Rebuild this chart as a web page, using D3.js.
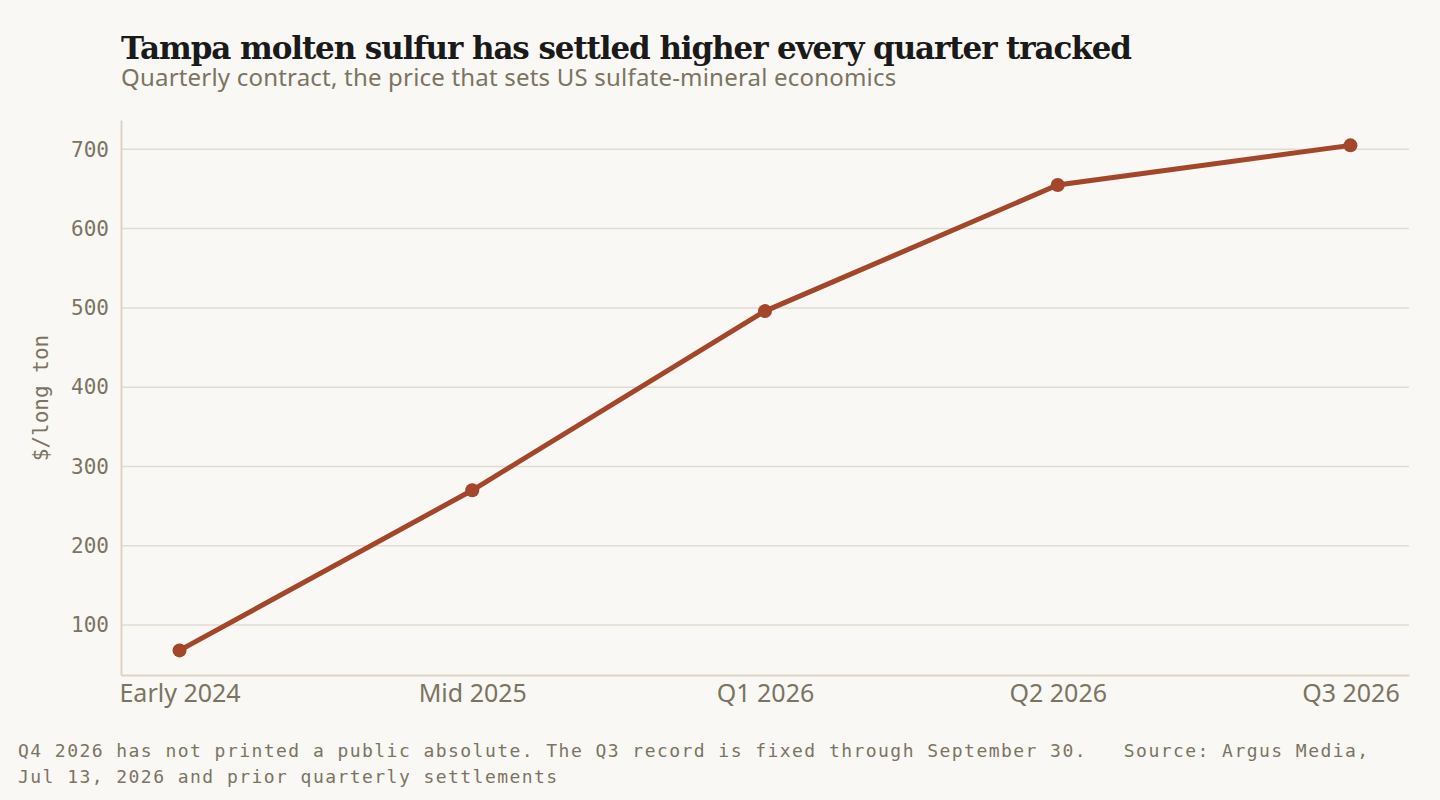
<!DOCTYPE html>
<html>
<head>
<script src="https://d3js.org/d3.v7.min.js"></script>
<style>
  html, body {margin: 0; background: #faf8f4; overflow: hidden;}
</style>
</head>
<body>
<svg id="chart" width="1440" height="800"></svg>
<script>
// data
const categories = ["Early 2024", "Mid 2025", "Q1 2026", "Q2 2026", "Q3 2026"]
const prices = [68, 270, 496, 655, 705]
const yTicks = [100, 200, 300, 400, 500, 600, 700]

const svg = d3.select("#chart")
const muted = "#7a7463"
const mono = "'DejaVu Sans Mono', monospace"
const sans = "'Noto Sans', sans-serif"

svg.append("rect").attr("width", 1440).attr("height", 800).attr("fill", "#faf8f4")

svg.append("text").attr("x", 121).attr("y", 59)
    .attr("font-family", "'DejaVu Serif', serif").attr("font-weight", "bold")
    .attr("font-size", 31).attr("letter-spacing", -1.1).attr("fill", "#1a1a1a")
    .text("Tampa molten sulfur has settled higher every quarter tracked")
svg.append("text").attr("x", 121).attr("y", 86)
    .attr("font-family", sans).attr("font-size", 24).attr("letter-spacing", 0.2).attr("fill", muted)
    .text("Quarterly contract, the price that sets US sulfate-mineral economics")

const x = d3.scalePoint().domain(categories).range([121, 1409]).padding(0.2)
const y = d3.scaleLinear().domain([37, 737]).range([675, 120])

// grid
svg.append("g").selectAll("line").data(yTicks).join("line")
    .attr("x1", 121).attr("x2", 1409)
    .attr("y1", d => y(d)).attr("y2", d => y(d))
    .attr("stroke", "#e0dcd3").attr("stroke-width", 1.5)

// axes
const yAxis = svg.append("g").attr("transform", "translate(121,0)")
    .call(d3.axisLeft(y).tickValues(yTicks).tickSize(0).tickPadding(12))
yAxis.select(".domain").attr("stroke", "#ddd3c4").attr("stroke-width", 2)
yAxis.selectAll("text").attr("font-family", mono).attr("font-size", 21).attr("fill", muted)

const xAxis = svg.append("g").attr("transform", "translate(0,675)")
    .call(d3.axisBottom(x).tickSize(0).tickPadding(9))
xAxis.select(".domain").attr("stroke", "#ddd3c4").attr("stroke-width", 2)
xAxis.selectAll("text").attr("font-family", sans).attr("font-size", 25).attr("fill", muted)

svg.append("text").attr("transform", "translate(48,398) rotate(-90)")
    .attr("text-anchor", "middle").attr("font-family", mono).attr("font-size", 21).attr("fill", muted)
    .text("$/long ton")

// line
const pts = categories.map((c, i) => [c, prices[i]])
svg.append("path").datum(pts)
    .attr("d", d3.line().x(d => x(d[0])).y(d => y(d[1])))
    .attr("fill", "none").attr("stroke", "#a3462a").attr("stroke-width", 5)
svg.append("g").selectAll("circle").data(pts).join("circle")
    .attr("cx", d => x(d[0])).attr("cy", d => y(d[1])).attr("r", 7)
    .attr("fill", "#a3462a")

// footnote
const foot = svg.append("text").attr("font-family", mono).attr("font-size", 18)
    .attr("letter-spacing", 1.45).attr("fill", muted).attr("xml:space", "preserve")
foot.append("tspan").attr("x", 18).attr("y", 757)
    .text("Q4 2026 has not printed a public absolute. The Q3 record is fixed through September 30.   Source: Argus Media,")
foot.append("tspan").attr("x", 18).attr("y", 783)
    .text("Jul 13, 2026 and prior quarterly settlements")
</script>
</body>
</html>
